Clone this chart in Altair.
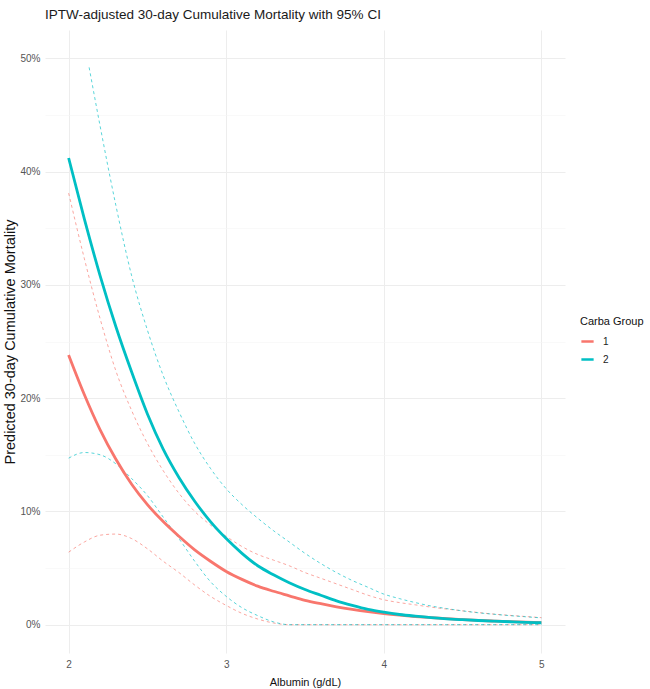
import altair as alt
import pandas as pd

# ---- data (percent) ----
albumin = [2.0, 2.1, 2.2, 2.3, 2.4, 2.5, 2.6, 2.7, 2.8, 2.9,
           3.0, 3.1, 3.2, 3.3, 3.4, 3.5, 3.6, 3.7, 3.8, 3.9,
           4.0, 4.1, 4.2, 4.3, 4.4, 4.5, 4.6, 4.7, 4.8, 4.9, 5.0]

g1_est = [23.8, 20.3, 17.2, 14.6, 12.4, 10.6, 9.1, 7.8, 6.6, 5.6,
          4.7, 4.0, 3.4, 2.95, 2.55, 2.15, 1.85, 1.58, 1.35, 1.15,
          0.98, 0.84, 0.72, 0.62, 0.53, 0.45, 0.38, 0.32, 0.27, 0.23, 0.19]
g1_lower = [6.4, 7.3, 7.9, 8.0, 7.6, 6.7, 5.6, 4.6, 3.5, 2.5,
            1.7, 1.0, 0.5, 0.15, 0, 0, 0, 0, 0, 0,
            0, 0, 0, 0, 0, 0, 0, 0, 0, 0, 0]
g1_upper = [38.1, 32.3, 27.0, 22.4, 18.9, 16.0, 13.6, 11.6, 10.0, 8.8,
            7.8, 6.9, 6.2, 5.7, 5.2, 4.6, 4.1, 3.6, 3.1, 2.6,
            2.2, 1.95, 1.75, 1.55, 1.38, 1.22, 1.07, 0.93, 0.82, 0.72, 0.62]

g2_est = [41.2, 35.8, 30.8, 26.3, 22.3, 18.6, 15.5, 13.0, 10.9, 9.1,
          7.6, 6.3, 5.2, 4.4, 3.7, 3.1, 2.6, 2.1, 1.7, 1.35,
          1.1, 0.9, 0.75, 0.62, 0.52, 0.44, 0.37, 0.31, 0.26, 0.21, 0.17]
g2_lower = [14.7, 15.2, 15.0, 14.2, 12.9, 11.4, 9.5, 7.6, 5.6, 3.8,
            2.5, 1.5, 0.8, 0.25, 0, 0, 0, 0, 0, 0,
            0, 0, 0, 0, 0, 0, 0, 0, 0, 0, 0]
# upper CI of group 2 only appears once it falls below 50%
g2_upper_albumin = [2.13, 2.2, 2.3, 2.4, 2.5, 2.6, 2.7, 2.8, 2.9,
                    3.0, 3.1, 3.2, 3.3, 3.4, 3.5, 3.6, 3.7, 3.8, 3.9,
                    4.0, 4.1, 4.2, 4.3, 4.4, 4.5, 4.6, 4.7, 4.8, 4.9, 5.0]
g2_upper = [49.2, 44.0, 37.0, 30.8, 26.0, 22.0, 18.8, 16.0, 13.8,
            12.0, 10.6, 9.4, 8.3, 7.3, 6.3, 5.4, 4.6, 3.9, 3.3,
            2.7, 2.3, 1.95, 1.65, 1.42, 1.22, 1.05, 0.92, 0.8, 0.7, 0.6]

groups = ["1", "2"]
colors = ["#F8766D", "#00BFC4"]
x_ticks = [2, 2.5, 3, 3.5, 4, 4.5, 5]
y_ticks = [0, 0.05, 0.1, 0.15, 0.2, 0.25, 0.3, 0.35, 0.4, 0.45, 0.5]

rows = []
def add(xs, ys, group, series):
    for x, y in zip(xs, ys):
        rows.append({"albumin": x, "value": y / 100.0, "group": group,
                     "ci_group": group, "series": series})

add(albumin, g1_est, "1", "est")
add(albumin, g1_lower, "1", "lower")
add(albumin, g1_upper, "1", "upper")
add(albumin, g2_est, "2", "est")
add(albumin, g2_lower, "2", "lower")
add(g2_upper_albumin, g2_upper, "2", "upper")
df = pd.DataFrame(rows)

FONT = "Liberation Sans"

xscale = alt.Scale(domain=[1.85, 5.15], nice=False, zero=False)
yscale = alt.Scale(domain=[-0.025, 0.525], nice=False, zero=False)

x_axis = alt.Axis(
    values=x_ticks, title="Albumin (g/dL)", format="d",
    labelExpr="datum.value % 1 == 0 ? datum.label : ''",
    grid=True,
    gridColor={"condition": {"test": "datum.value % 1 != 0", "value": "#F5F5F5"}, "value": "#EDEDED"},
    gridWidth={"condition": {"test": "datum.value % 1 != 0", "value": 0.6}, "value": 1},
    domain=False, ticks=False, labelPadding=6, labelFontSize=10, labelColor="#555555",
    labelFont=FONT, titleFont=FONT, titleFontSize=11, titleFontWeight="normal",
    titleColor="#111111", titlePadding=7, labelFlush=False,
)
y_axis = alt.Axis(
    values=y_ticks, title="Predicted 30-day Cumulative Mortality", format=".0%",
    labelExpr="round(datum.value * 100) % 10 == 0 ? datum.label : ''",
    grid=True,
    gridColor={"condition": {"test": "round(datum.value * 100) % 10 != 0", "value": "#F5F5F5"}, "value": "#EDEDED"},
    gridWidth={"condition": {"test": "round(datum.value * 100) % 10 != 0", "value": 0.6}, "value": 1},
    domain=False, ticks=False, labelPadding=5, labelFontSize=10, labelColor="#555555",
    labelFont=FONT, titleFont=FONT, titleFontSize=14.5, titleFontWeight="normal",
    titleColor="#111111", titlePadding=2, labelFlush=False,
)

base = alt.Chart(df)

ci = base.transform_filter(alt.datum.series != "est").mark_line(
    strokeDash=[3, 3], strokeWidth=1, opacity=0.65, interpolate="monotone"
).encode(
    x=alt.X("albumin:Q", scale=xscale, axis=x_axis),
    y=alt.Y("value:Q", scale=yscale, axis=y_axis),
    stroke=alt.Stroke("ci_group:N", scale=alt.Scale(domain=groups, range=colors), legend=None),
    detail="series:N",
)

main = base.transform_filter(alt.datum.series == "est").mark_line(
    strokeWidth=2.8, interpolate="monotone"
).encode(
    x=alt.X("albumin:Q", scale=xscale, axis=x_axis),
    y=alt.Y("value:Q", scale=yscale, axis=y_axis),
    color=alt.Color("group:N", scale=alt.Scale(domain=groups, range=colors), legend=alt.Legend(
        title="Carba Group", orient="none", legendX=535, legendY=286,
        symbolType="stroke", symbolSize=150, symbolStrokeWidth=2.5,
        labelFontSize=10, labelFont=FONT, labelColor="#222222",
        titleFontSize=11, titleFont=FONT, titleFontWeight="normal", titleColor="#111111",
        rowPadding=5, titlePadding=7, labelOffset=8,
    )),
)

chart = alt.layer(ci, main).resolve_scale(stroke="independent", color="independent").properties(
    width=520, height=623,
    padding={"left": 45, "top": 30, "right": 85, "bottom": 36},
    autosize=alt.AutoSizeParams(type="none"),
    background="white",
    title=alt.TitleParams(
        text="IPTW-adjusted 30-day Cumulative Mortality with 95% CI",
        anchor="start", frame="group", font=FONT, fontSize=13.5,
        fontWeight="normal", color="#1a1a1a", offset=9, baseline="bottom", dy=14,
    ),
).configure_view(stroke=None)

chart.save("out.html", embed_options={"renderer": "svg", "actions": False})
